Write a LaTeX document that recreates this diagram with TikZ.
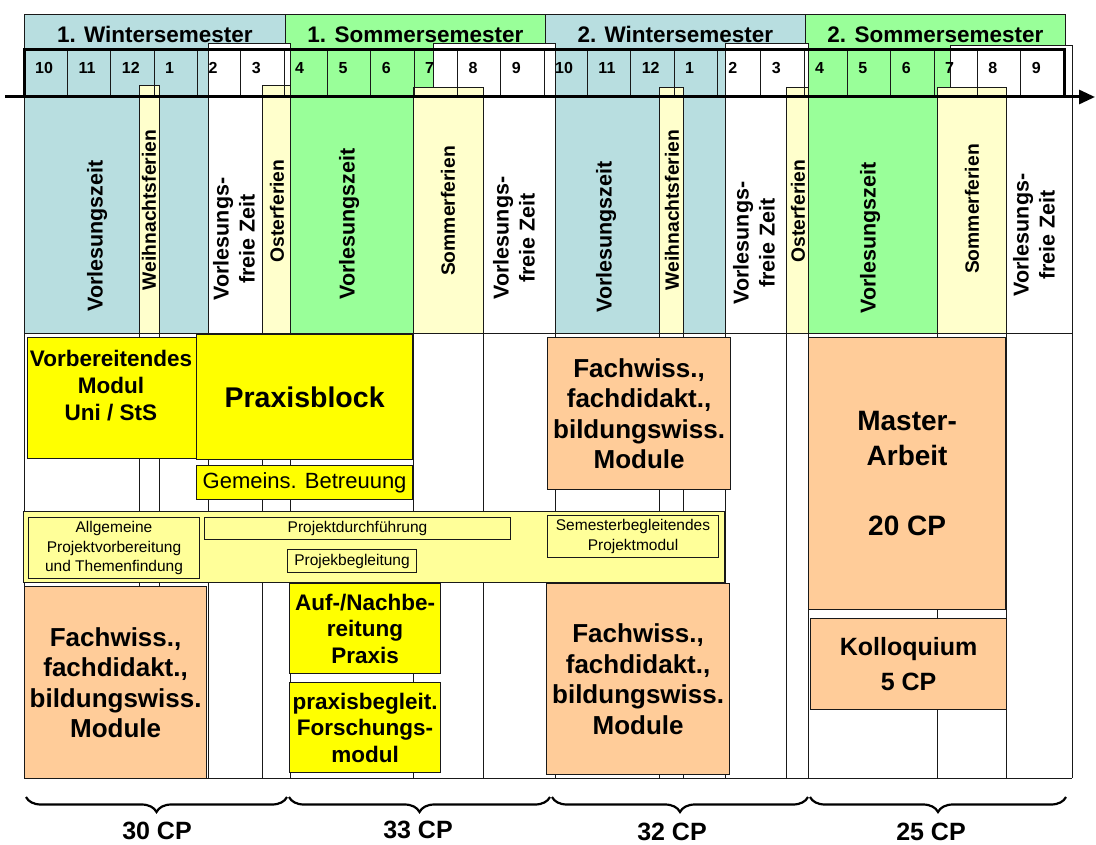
\documentclass[tikz,border=0pt]{standalone}
\usepackage{fontspec}
\setmainfont{Liberation Sans}
\usetikzlibrary{arrows.meta,decorations.pathreplacing}
\definecolor{vzblau}{RGB}{184,222,224}
\definecolor{vzgruen}{RGB}{153,255,153}
\definecolor{ferienfarbe}{RGB}{255,255,204}
\definecolor{praxisgelb}{RGB}{255,255,0}
\definecolor{projektgelb}{RGB}{255,255,153}
\definecolor{modulorange}{RGB}{255,204,153}
\newcommand{\schrift}[2]{\fontsize{#1}{#2}\selectfont}

\begin{document}
\begin{tikzpicture}[x=1pt,y=-1pt,
   gitter/.style={draw=black!90,line width=0.8pt},
   kopf/.style={draw=black!90,line width=0.8pt,anchor=north west,inner sep=0pt,
      minimum height=41,font=\bfseries\schrift{22.5}{25}},
   senkrecht/.style={rotate=90,align=center,font=\bfseries\schrift{21.5}{26}},
   ferien/.style={rotate=90,font=\bfseries\schrift{19.3}{21}},
   monat/.style={anchor=west,inner sep=0pt,font=\bfseries\schrift{16}{18}},
   kasten/.style={draw=black!90,line width=1.2pt,anchor=north west,inner sep=0pt,align=center},
   modul/.style={kasten,fill=modulorange,font=\bfseries\schrift{26}{30.5}},
   praxis/.style={kasten,fill=praxisgelb,font=\bfseries\schrift{22.5}{26.5}},
   projekt/.style={kasten,line width=1pt,font=\schrift{15.5}{19.5}},
   klammer/.style={decorate,decoration={brace,mirror,amplitude=15pt},line width=2.2pt},
   cp/.style={font=\bfseries\schrift{25}{30}}]
\useasboundingbox (0,0) rectangle (1096,845);

% Semester
\node[kopf,fill=vzblau,minimum width=261] (ws1) at (24,14) {1. Wintersemester};
\node[kopf,fill=vzgruen,minimum width=260] (ss1) at (285,14) {1. Sommersemester};
\node[kopf,fill=vzblau,minimum width=260] (ws2) at (545,14) {2. Wintersemester};
\node[kopf,fill=vzgruen,minimum width=260] (ss2) at (805,14) {2. Sommersemester};

% Vorlesungszeit / vorlesungsfreie Zeit / Ferien
\draw[gitter,fill=vzblau] (24,50) rectangle (208,333);
\draw[gitter,fill=vzgruen] (290,50) rectangle (433,333);
\draw[gitter,fill=vzblau] (555,50) rectangle (725,333);
\draw[gitter,fill=vzgruen] (808,50) rectangle (950,333);
\draw[gitter,fill=white] (208,43) rectangle (290,333);
\draw[gitter,fill=white] (433,43) rectangle (555,333);
\draw[gitter,fill=white] (725,43) rectangle (808,333);
\draw[gitter,fill=white] (950,45) rectangle (1072,333);
\draw[gitter,fill=ferienfarbe] (139,85) rectangle (159,333);
\draw[gitter,fill=ferienfarbe] (262,85) rectangle (290,333);
\draw[gitter,fill=ferienfarbe] (413,87) rectangle (483,333);
\draw[gitter,fill=ferienfarbe] (659,87) rectangle (683,333);
\draw[gitter,fill=ferienfarbe] (786,87) rectangle (808,333);
\draw[gitter,fill=ferienfarbe] (937,87) rectangle (1006,333);
\foreach \x in {24,139,159,208,262,290,413,483,555,659,683,725,786,808,937,1006,1072}
   \draw[gitter] (\x,333) -- (\x,778);
\draw[gitter] (24,778) -- (1072,778);

% Monate
\foreach \i in {1,...,23}
   \draw[gitter] ({24+\i*43.33},50) -- ({24+\i*43.33},97);
\draw[line width=3pt] (24,97) -- (24,50) -- (1064,50) -- (1064,97);
\foreach \m [count=\i from 0] in {10,11,12,1,2,3,4,5,6,7,8,9,10,11,12,1,2,3,4,5,6,7,8,9}
   \node[monat] (mon\i) at ({24+\i*43.33+11},68) {\m};
\coordinate (zeit0) at (5,97);
\coordinate (zeit1) at (1095,97);
\draw[line width=3pt,-{Triangle[length=16pt,width=14pt]}] (zeit0) -- (zeit1);

\node[senkrecht] (vz1) at (97,236) {Vorlesungszeit};
\node[ferien] (wf1) at (149,210) {Weihnachtsferien};
\node[senkrecht] (vf1) at (234,239) {Vorlesungs-\\freie Zeit};
\node[ferien] (of1) at (277,211) {Osterferien};
\node[senkrecht] (vz2) at (349,224) {Vorlesungszeit};
\node[ferien] (sf1) at (448,211) {Sommerferien};
\node[senkrecht] (vf2) at (514,238) {Vorlesungs-\\freie Zeit};
\node[senkrecht] (vz3) at (606,237) {Vorlesungszeit};
\node[ferien] (wf2) at (672,210) {Weihnachtsferien};
\node[senkrecht] (vf3) at (754,243) {Vorlesungs-\\freie Zeit};
\node[ferien] (of2) at (798,211) {Osterferien};
\node[senkrecht] (vz4) at (870,238) {Vorlesungszeit};
\node[ferien] (sf2) at (972,209) {Sommerferien};
\node[senkrecht] (vf4) at (1034,235) {Vorlesungs-\\freie Zeit};

% Module
\node[kasten,fill=praxisgelb,minimum width=169,minimum height=121] (vorb) at (27,337) {};
\node[align=center,font=\bfseries\schrift{22.5}{27}] (vorbtext) at (111,386)
   {Vorbereitendes\\Modul\\Uni / StS};
\node[kasten,fill=praxisgelb,minimum width=216,minimum height=125,
   font=\bfseries\schrift{28.5}{32}] (block) at (196,334) {Praxisblock};
\node[kasten,fill=praxisgelb,minimum width=216,minimum height=34,
   font=\schrift{22}{26}] (betr) at (196,465) {Gemeins. Betreuung};
\node[modul,minimum width=183,minimum height=152] (fach2) at (547,337)
   {Fachwiss.,\\fachdidakt.,\\bildungswiss.\\Module};
\node[modul,minimum width=197,minimum height=272,font=\bfseries\schrift{28}{35}] (master) at (808,337)
   {Master-\\Arbeit\\[35pt]20 CP};

\node[projekt,fill=projektgelb,minimum width=701,minimum height=71] (band) at (23,511) {};
\node[projekt,minimum width=171,minimum height=61] (allg) at (28,517)
   {Allgemeine\\Projektvorbereitung\\und Themenfindung};
\node[projekt,minimum width=306,minimum height=22] (durch) at (204,517) {Projektdurchführung};
\node[projekt,minimum width=129,minimum height=23] (begl) at (287,549) {Projekbegleitung};
\node[projekt,minimum width=171,minimum height=42] (sem) at (547,515)
   {Semesterbegleitendes\\Projektmodul};

\node[modul,minimum width=182,minimum height=192] (fach1) at (24,586)
   {Fachwiss.,\\fachdidakt.,\\bildungswiss.\\Module};
\node[praxis,minimum width=151,minimum height=90] (aufn) at (289,583)
   {Auf-/Nachbe-\\reitung\\Praxis};
\node[praxis,minimum width=151,minimum height=90] (forsch) at (289,682)
   {praxisbegleit.\\Forschungs-\\modul};
\node[modul,minimum width=183,minimum height=191] (fach3) at (546,583)
   {Fachwiss.,\\fachdidakt.,\\bildungswiss.\\Module};
\node[modul,minimum width=196,minimum height=91,font=\bfseries\schrift{25}{35}] (koll) at (810,618)
   {Kolloquium\\5 CP};

% Leistungspunkte
\draw[klammer] (26,797) -- (287,797);
\draw[klammer] (289,797) -- (550,797);
\draw[klammer] (552,797) -- (808,797);
\draw[klammer] (810,797) -- (1066,797);
\node[cp] (cp1) at (157,831) {30 CP};
\node[cp] (cp2) at (418,830) {33 CP};
\node[cp] (cp3) at (672,832) {32 CP};
\node[cp] (cp4) at (931,832) {25 CP};
\end{tikzpicture}
\end{document}
